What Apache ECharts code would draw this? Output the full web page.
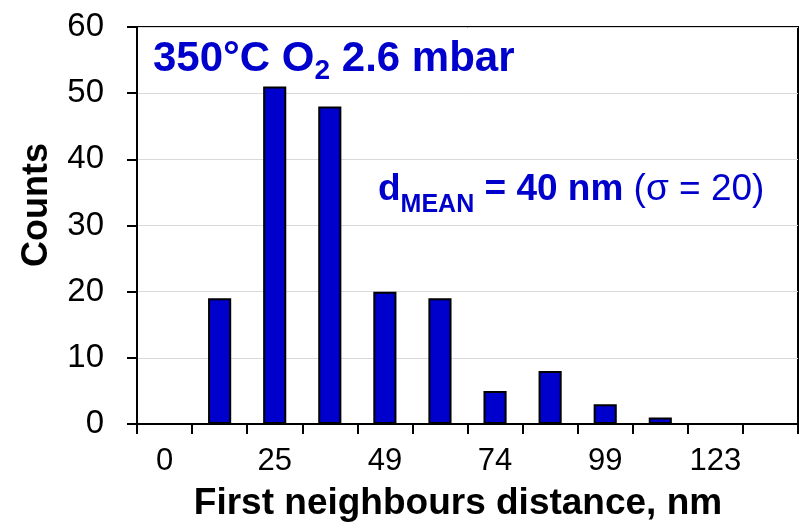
<!DOCTYPE html>
<html>
<head>
<meta charset="utf-8">
<script src="https://cdn.jsdelivr.net/npm/echarts@6/dist/echarts.min.js"></script>
<style>html,body{margin:0;padding:0;background:#fff}#c{width:800px;height:525px}</style>
</head>
<body>
<div id="c"></div>
<script>
const categories = ['0','12','25','37','49','62','74','86','99','111','123','136'];
const counts = [0, 19, 51, 48, 20, 19, 5, 8, 3, 1, 0, 0];
const yTicks = [0, 10, 20, 30, 40, 50, 60];
const xTitle = 'First neighbours distance, nm';
const yTitle = 'Counts';

const BLUE = '#0000CC';
const FONT = 'Liberation Sans, Arial, sans-serif';
const chart = echarts.init(document.getElementById('c'), null, {renderer: 'canvas'});
chart.setOption({
  animation: false,
  backgroundColor: '#fff',
  grid: {left: 137, top: 27, right: 2, bottom: 101, show: true, borderColor: '#000', borderWidth: 2},
  xAxis: {
    type: 'category',
    data: categories,
    boundaryGap: true,
    axisLine: {lineStyle: {color: '#000', width: 2}},
    axisTick: {show: true, interval: 0, length: 10, lineStyle: {color: '#000', width: 2}},
    axisLabel: {interval: 1, color: '#000', fontSize: 31, fontFamily: FONT, margin: 22},
    splitLine: {show: false}
  },
  yAxis: {
    type: 'value',
    min: yTicks[0], max: yTicks[yTicks.length - 1], interval: 10,
    axisLine: {show: true, lineStyle: {color: '#000', width: 2}},
    axisTick: {show: true, length: 10, lineStyle: {color: '#000', width: 2}},
    axisLabel: {color: '#000', fontSize: 33, fontFamily: FONT, margin: 33},
    splitLine: {show: true, lineStyle: {color: '#d9d9d9', width: 1}}
  },
  series: [{
    type: 'bar',
    data: counts,
    barWidth: '42%',
    itemStyle: {color: BLUE, borderColor: '#000', borderWidth: 2}
  }],
  graphic: [
    {type: 'text', left: 153, top: 38, style: {
      text: '{b|350°C O}{s|2}{b| 2.6 mbar}',
      rich: {
        b: {fontSize: 42, fontWeight: 'bold', fontFamily: FONT, fill: BLUE, lineHeight: 52, verticalAlign: 'middle'},
        s: {fontSize: 28, fontWeight: 'bold', fontFamily: FONT, fill: BLUE, lineHeight: 52, verticalAlign: 'bottom'}
      }
    }},
    {type: 'text', left: 378, top: 171, style: {
      text: '{b|d}{s|MEAN}{b| = 40 nm }{r|(σ = 20)}',
      rich: {
        b: {fontSize: 37, fontWeight: 'bold', fontFamily: FONT, fill: BLUE, lineHeight: 56, verticalAlign: 'middle'},
        s: {fontSize: 25, fontWeight: 'bold', fontFamily: FONT, fill: BLUE, lineHeight: 56, verticalAlign: 'bottom'},
        r: {fontSize: 37, fontFamily: FONT, fill: BLUE, lineHeight: 56, verticalAlign: 'middle'}
      }
    }},
    {type: 'text', x: 37, y: 205, rotation: Math.PI / 2, style: {
      text: yTitle, fontSize: 36, fontWeight: 'bold', fontFamily: FONT, fill: '#000',
      align: 'center', verticalAlign: 'middle'
    }},
    {type: 'text', x: 458, y: 504, style: {
      text: xTitle, fontSize: 37, fontWeight: 'bold', fontFamily: FONT, fill: '#000',
      align: 'center', verticalAlign: 'middle'
    }}
  ]
});
</script>
</body>
</html>
